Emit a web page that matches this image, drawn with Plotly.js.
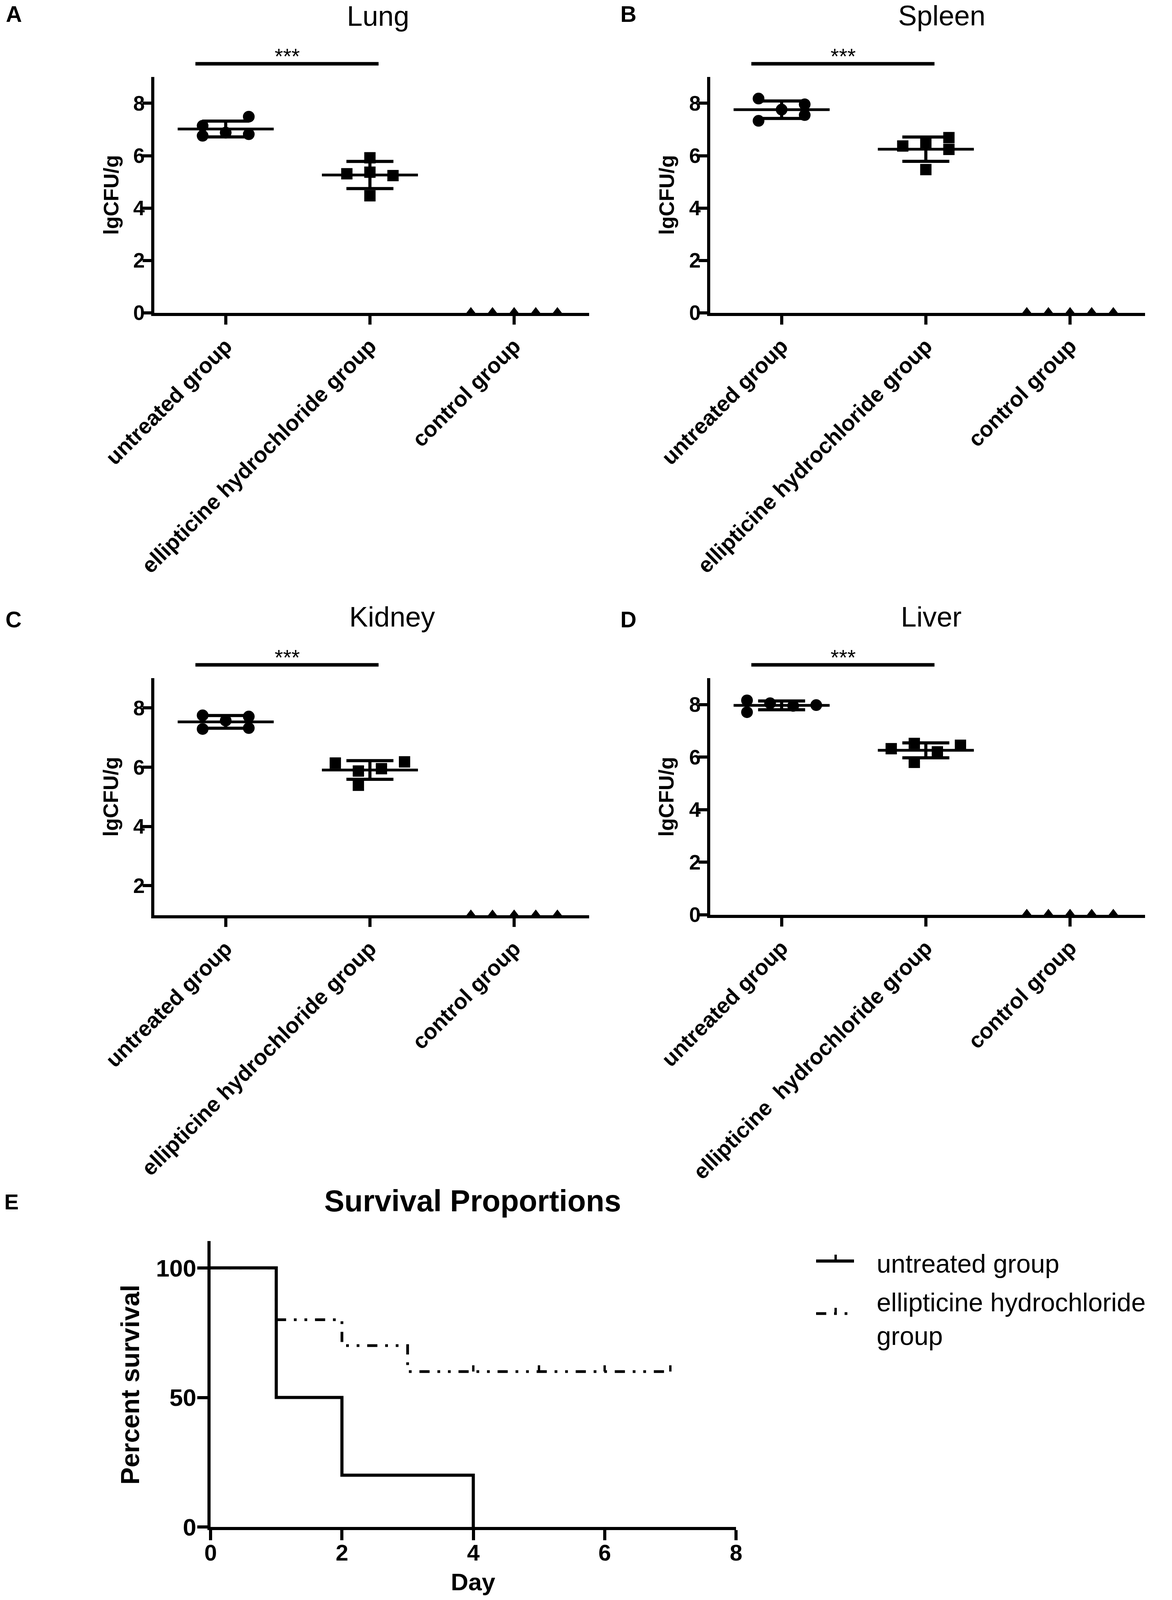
<!DOCTYPE html>
<html>
<head>
<meta charset="utf-8">
<script src="https://cdn.plot.ly/plotly-3.0.1.min.js"></script>
<style>html,body{margin:0;padding:0;background:#fff;overflow:hidden;}</style>
</head>
<body>
<div id="chart" style="width:3000px;"></div>
<script>
// ---------------- DATA ----------------
const groupLabels = ['untreated group', 'ellipticine hydrochloride group', 'control group'];
const groupLabelsLiver = ['untreated group', 'ellipticine\u00a0 hydrochloride group', 'control group'];

const lungUntreated = [7.14, 6.76, 6.88, 7.49, 6.82];
const lungEllipticine = [5.31, 5.92, 5.37, 4.47, 5.24];
const lungControl = [0, 0, 0, 0, 0];

const spleenUntreated = [8.18, 7.33, 7.76, 7.96, 7.55];
const spleenEllipticine = [6.37, 6.47, 5.47, 6.69, 6.24];
const spleenControl = [0, 0, 0, 0, 0];

const kidneyUntreated = [7.75, 7.29, 7.57, 7.71, 7.32];
const kidneyEllipticine = [6.14, 5.87, 5.39, 5.95, 6.18];
const kidneyControl = [1, 1, 1, 1, 1];

const liverUntreated = [8.16, 7.71, 8.05, 7.95, 7.98];
const liverEllipticine = [6.32, 6.52, 5.80, 6.20, 6.45];
const liverControl = [0, 0, 0, 0, 0];

const cfuTicks = [0, 2, 4, 6, 8];
const kidneyTicks = [2, 4, 6, 8];

const untreatedSurvivalDays = [0, 1, 2, 4];
const untreatedSurvival = [100, 50, 20, 0];
const ellipticineSurvivalDays = [0, 1, 2, 3, 7];
const ellipticineSurvival = [100, 80, 70, 60, 60];
const ellipticineCensorDays = [4, 5, 6, 7];
const ellipticineCensorSurvival = [60, 60, 60, 60];
const survivalXTicks = [0, 2, 4, 6, 8];
const survivalYTicks = [0, 50, 100];

// ---------------- LAYOUT / STYLE ----------------
const W = 3000, H = 5022;
// the visible window may be shorter than the design height: keep everything in view
const VH = Math.min(H, window.innerHeight || H);
const S = VH / H;
const SMALL = S < 1;
const FS = SMALL ? 0.92 : 1;
document.getElementById('chart').style.height = VH + 'px';

const FONT = 'Liberation Sans, Arial, Helvetica, sans-serif';
const BLACK = '#000000';
const DASH = '26px,20px,7px,20px,7px,20px';

const spread3 = [-0.16, -0.16, 0, 0.16, 0.16];
const spread3b = [-0.16, 0, 0, 0, 0.16];
const spread3c = [-0.16, 0, 0, 0.16, 0.16];
const spread4 = [-0.24, -0.08, -0.08, 0.08, 0.24];
const spread4b = [-0.24, -0.24, -0.08, 0.08, 0.24];
const spreadCtrl = [-0.30, -0.15, 0, 0.15, 0.30];

const XR = [-0.495, 2.52];
const MEAN_HALF = 0.333, CAP_HALF = 0.163;

const panels = [
  {letter:'A', title:'Lung', labels:groupLabels, u:lungUntreated, e:lungEllipticine, c:lungControl,
   uOff:spread3, eOff:spread3b, yticks:cfuTicks, yrange:[0, 9],
   xd:[395, 1508], yd:[242, 982], letterPos:[35, 17], titlePos:[968, 17], ytitlePos:[284, 612]},
  {letter:'B', title:'Spleen', labels:groupLabels, u:spleenUntreated, e:spleenEllipticine, c:spleenControl,
   uOff:spread3, eOff:spread3c, yticks:cfuTicks, yrange:[0, 9],
   xd:[1818, 2931], yd:[242, 982], letterPos:[1608, 17], titlePos:[2410, 16], ytitlePos:[1706, 612]},
  {letter:'C', title:'Kidney', labels:groupLabels, u:kidneyUntreated, e:kidneyEllipticine, c:kidneyControl,
   uOff:spread3, eOff:spread4, yticks:kidneyTicks, yrange:[1, 9],
   xd:[395, 1508], yd:[2129, 2873], letterPos:[34, 1917], titlePos:[1004, 1903], ytitlePos:[284, 2501]},
  {letter:'D', title:'Liver', labels:groupLabelsLiver, u:liverUntreated, e:liverEllipticine, c:liverControl,
   uOff:spread4b, eOff:spread4, yticks:cfuTicks, yrange:[0, 9],
   xd:[1818, 2931], yd:[2129, 2871], letterPos:[1608, 1917], titlePos:[2384, 1903], ytitlePos:[1706, 2501]}
];

function mean(a){ return a.reduce((s,v)=>s+v,0)/a.length; }
function sd(a){ const m = mean(a); return Math.sqrt(a.reduce((s,v)=>s+(v-m)*(v-m),0)/(a.length-1)); }
function pxX(x){ return x / W; }
function pxY(y){ return 1 - y / H; }
// paper y for an annotation anchored at its top so that the capital letters start at yRef
function capTopY(yRef, fs){ return 1 - (yRef * S - 0.19 * fs - 1) / VH; }

const traces = [];
const layout = {
  width: W, height: VH,
  margin: {l:0, r:0, t:0, b:0, pad:0},
  paper_bgcolor: '#ffffff', plot_bgcolor: '#ffffff',
  showlegend: false,
  font: {family: FONT, color: BLACK},
  annotations: [], shapes: []
};

function axisBase(){
  return {showline:true, linecolor:BLACK, linewidth:8, ticks:'outside', tickcolor:BLACK,
          tickwidth:8, showgrid:false, zeroline:false, fixedrange:true};
}
function topText(text, x, yRef, size, bold, xanchor){
  return {xref:'paper', yref:'paper', x:pxX(x), y:capTopY(yRef, size), text:text, showarrow:false,
    xanchor:xanchor || 'center', yanchor:'top', align:'left',
    font:{family:FONT, size:size, color:BLACK, weight:bold ? 'bold' : 'normal'}};
}

panels.forEach((p, i) => {
  const s = i === 0 ? '' : String(i + 1);
  const xa = 'x' + s, ya = 'y' + s;

  layout['xaxis' + s] = Object.assign(axisBase(), {
    domain:[pxX(p.xd[0]), pxX(p.xd[1])], range:XR, anchor:ya, layer:'below traces',
    tickmode:'array', tickvals:[0, 1, 2], ticktext:p.labels, tickangle:-45, ticklen:22,
    tickfont:{family:FONT, size:56, color:BLACK, weight:'bold'}
  });
  layout['yaxis' + s] = Object.assign(axisBase(), {
    domain:[pxY(p.yd[1]), pxY(p.yd[0])], range:p.yrange, anchor:xa,
    tickmode:'array', tickvals:p.yticks, ticklen:22, ticklabelstandoff:-16,
    tickfont:{family:FONT, size:53, color:BLACK, weight:'bold'}
  });

  const groups = [
    {vals:p.u, off:p.uOff, idx:0, sym:'circle', size:30, stats:true},
    {vals:p.e, off:p.eOff, idx:1, sym:'square', size:29, stats:true},
    {vals:p.c, off:spreadCtrl, idx:2, sym:'triangle-up', size:30, stats:false}
  ];
  groups.forEach(g => {
    if (g.stats) {
      const m = mean(g.vals), d = sd(g.vals), c = g.idx;
      traces.push({type:'scatter', mode:'lines', xaxis:xa, yaxis:ya, hoverinfo:'skip',
        x:[c - MEAN_HALF, c + MEAN_HALF], y:[m, m], line:{color:BLACK, width:7}});
      traces.push({type:'scatter', mode:'lines', xaxis:xa, yaxis:ya, hoverinfo:'skip',
        x:[c, c, null, c - CAP_HALF, c + CAP_HALF, null, c - CAP_HALF, c + CAP_HALF],
        y:[m - d, m + d, null, m + d, m + d, null, m - d, m - d],
        line:{color:BLACK, width:8}});
    }
    traces.push({type:'scatter', mode:'markers', xaxis:xa, yaxis:ya, cliponaxis:false,
      x:g.vals.map((v, k) => g.idx + g.off[k]), y:g.vals,
      marker:{symbol:g.sym, size:g.size, color:BLACK, line:{width:0}}});
  });

  // significance bar between untreated and ellipticine groups
  const xd0 = pxX(p.xd[0]), xd1 = pxX(p.xd[1]);
  const toPaperX = v => xd0 + (v - XR[0]) / (XR[1] - XR[0]) * (xd1 - xd0);
  const yd0 = pxY(p.yd[1]), yd1 = pxY(p.yd[0]);
  const barY = yd0 + 1.0567 * (yd1 - yd0);
  layout.shapes.push({type:'line', xref:'paper', yref:'paper',
    x0:toPaperX(-0.21), x1:toPaperX(1.06), y0:barY, y1:barY, line:{color:BLACK, width:9}});
  layout.annotations.push({xref:xa, yref:ya + ' domain', x:0.425, y:1.088, text:'***',
    showarrow:false, xanchor:'center', yanchor:'middle', font:{family:FONT, size:60 * FS, color:BLACK}});

  layout.annotations.push(topText(p.letter, p.letterPos[0], p.letterPos[1], 62 * FS, true));
  layout.annotations.push(topText(p.title, p.titlePos[0], p.titlePos[1], 78 * FS, false));
  layout.annotations.push({xref:'paper', yref:'paper', x:pxX(p.ytitlePos[0]), y:pxY(p.ytitlePos[1]),
    text:'lgCFU/g', textangle:-90, showarrow:false, xanchor:'center', yanchor:'middle',
    font:{family:FONT, size:58 * FS, color:BLACK, weight:'bold'}});
});

// ---------------- PANEL E: survival ----------------
layout.xaxis5 = Object.assign(axisBase(), {
  domain:[pxX(539), pxX(1884)], range:[0, 8], anchor:'y5',
  tickmode:'array', tickvals:survivalXTicks, ticklen:26, ticklabelstandoff:SMALL ? -18 : -6,
  tickfont:{family:FONT, size:SMALL ? 58 : 62, color:BLACK, weight:'bold'}
});
layout.yaxis5 = Object.assign(axisBase(), {
  domain:[pxY(4793), pxY(3895)], range:[0, 110.4], anchor:'x5',
  tickmode:'array', tickvals:survivalYTicks, ticklen:26, ticklabelstandoff:-10,
  tickfont:{family:FONT, size:62, color:BLACK, weight:'bold'}
});

traces.push({type:'scatter', mode:'lines', xaxis:'x5', yaxis:'y5', name:'ellipticine hydrochloride group',
  x:ellipticineSurvivalDays, y:ellipticineSurvival,
  line:{shape:'hv', color:BLACK, width:7, dash:DASH}});
traces.push({type:'scatter', mode:'lines', xaxis:'x5', yaxis:'y5', name:'untreated group',
  x:untreatedSurvivalDays, y:untreatedSurvival,
  line:{shape:'hv', color:BLACK, width:8}});

ellipticineCensorDays.forEach((d, k) => {
  layout.shapes.push({type:'line', xref:'x5', yref:'y5', x0:d, x1:d,
    ysizemode:'pixel', yanchor:ellipticineCensorSurvival[k], y0:0, y1:16,
    line:{color:BLACK, width:6}});
});

// legend (drawn by hand to match the original's long symbols)
layout.shapes.push({type:'line', xref:'paper', yref:'paper', x0:pxX(2089), x1:pxX(2186), y0:pxY(3958), y1:pxY(3958), line:{color:BLACK, width:8}});
layout.shapes.push({type:'line', xref:'paper', yref:'paper', x0:pxX(2139), x1:pxX(2139), y0:pxY(3958), y1:pxY(3938), line:{color:BLACK, width:6}});
layout.shapes.push({type:'line', xref:'paper', yref:'paper', x0:pxX(2089), x1:pxX(2186), y0:pxY(4123), y1:pxY(4123), line:{color:BLACK, width:7, dash:DASH}});
layout.shapes.push({type:'line', xref:'paper', yref:'paper', x0:pxX(2139), x1:pxX(2139), y0:pxY(4123), y1:pxY(4105), line:{color:BLACK, width:6}});
layout.annotations.push(topText('untreated group', 2242, 3935, 72 * FS, false, 'left'));
layout.annotations.push(topText('ellipticine hydrochloride<br>group', 2242, 4057, 72 * FS, false, 'left'));

layout.annotations.push(topText('E', 29, 3746, 60 * FS, true));
layout.annotations.push(topText('Survival Proportions', 1210, 3733, 84 * FS, true));
layout.annotations.push({xref:'paper', yref:'paper', x:pxX(333), y:pxY(4346), text:'Percent survival', textangle:-90, showarrow:false,
  xanchor:'center', yanchor:'middle', font:{family:FONT, size:72 * FS, color:BLACK, weight:'bold'}});
layout.annotations.push(topText('Day', 1211, SMALL ? 4936 : 4945, SMALL ? 62 : 72, true));

Plotly.newPlot('chart', traces, layout, {displayModeBar:false, staticPlot:true});
</script>
</body>
</html>
